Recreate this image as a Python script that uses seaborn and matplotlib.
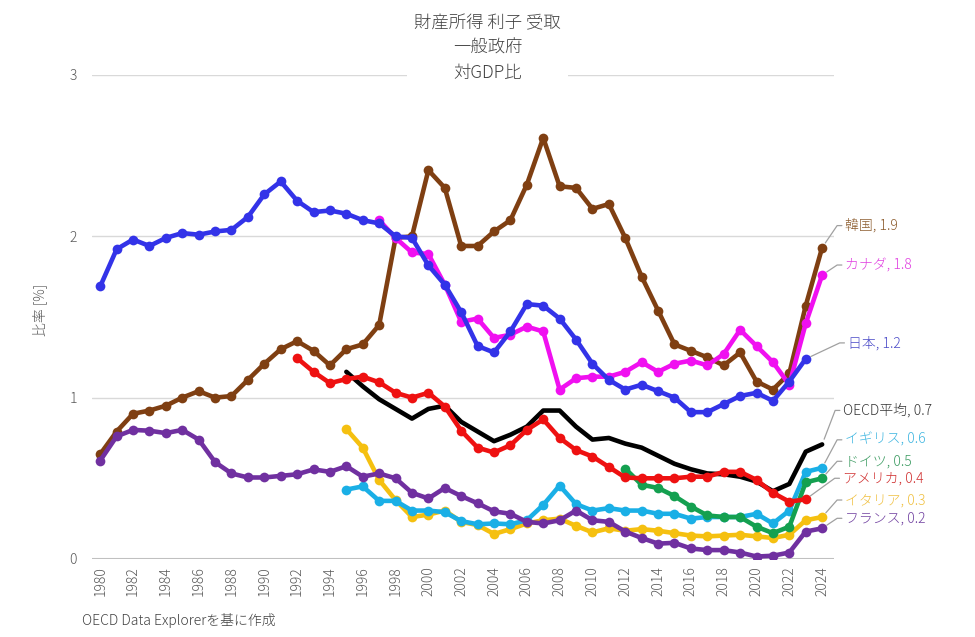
import math
import pandas as pd
import matplotlib
matplotlib.use('Agg')
import matplotlib.pyplot as plt
import seaborn as sns

# data (% of GDP)
years_kr = list(range(1980, 2025))
korea = [0.65, 0.79, 0.90, 0.92, 0.95, 1.00, 1.04, 1.00, 1.01, 1.11,
         1.21, 1.30, 1.35, 1.29, 1.20, 1.30, 1.33, 1.45, 1.99, 2.00,
         2.41, 2.30, 1.94, 1.94, 2.03, 2.10, 2.32, 2.61, 2.31, 2.30,
         2.17, 2.20, 1.99, 1.75, 1.54, 1.33, 1.29, 1.25, 1.20, 1.28,
         1.10, 1.05, 1.15, 1.57, 1.93]

years_ca = list(range(1997, 2025))
canada = [2.10, 1.99, 1.90, 1.89, 1.70, 1.47, 1.49, 1.37, 1.39, 1.44,
          1.41, 1.05, 1.12, 1.13, 1.13, 1.16, 1.22, 1.16, 1.21, 1.23,
          1.20, 1.27, 1.42, 1.32, 1.22, 1.08, 1.46, 1.76]

years_jp = list(range(1980, 2024))
japan = [1.69, 1.92, 1.98, 1.94, 1.99, 2.02, 2.01, 2.03, 2.04, 2.12,
         2.26, 2.34, 2.22, 2.15, 2.16, 2.14, 2.10, 2.08, 2.00, 1.99,
         1.82, 1.70, 1.53, 1.32, 1.28, 1.41, 1.58, 1.57, 1.49, 1.36,
         1.21, 1.11, 1.05, 1.08, 1.04, 1.00, 0.91, 0.91, 0.96, 1.01,
         1.03, 0.98, 1.10, 1.24]

years_oecd = list(range(1995, 2025))
oecd = [1.16, 1.07, 0.99, 0.93, 0.87, 0.93, 0.95, 0.85, 0.79, 0.73,
        0.77, 0.82, 0.92, 0.92, 0.82, 0.74, 0.75, 0.715, 0.69, 0.64,
        0.59, 0.556, 0.53, 0.525, 0.51, 0.48, 0.42, 0.465, 0.665, 0.71]

years_uk = list(range(1995, 2025))
uk = [0.43, 0.45, 0.36, 0.36, 0.30, 0.30, 0.29, 0.235, 0.215, 0.22,
      0.215, 0.24, 0.335, 0.455, 0.34, 0.30, 0.315, 0.30, 0.30, 0.28,
      0.28, 0.25, 0.26, 0.26, 0.26, 0.28, 0.22, 0.30, 0.54, 0.565]

years_de = list(range(2012, 2025))
germany = [0.56, 0.46, 0.44, 0.39, 0.325, 0.27, 0.26, 0.26, 0.20, 0.16,
           0.20, 0.475, 0.50]

years_us = list(range(1992, 2024))
usa = [1.245, 1.16, 1.09, 1.115, 1.13, 1.095, 1.03, 1.00, 1.03, 0.945,
       0.795, 0.69, 0.66, 0.705, 0.80, 0.865, 0.75, 0.675, 0.635, 0.57,
       0.505, 0.50, 0.50, 0.50, 0.51, 0.51, 0.54, 0.54, 0.49, 0.41,
       0.355, 0.37]

years_it = list(range(1995, 2025))
italy = [0.805, 0.69, 0.49, 0.365, 0.26, 0.275, 0.30, 0.23, 0.21, 0.155,
         0.185, 0.22, 0.24, 0.25, 0.205, 0.165, 0.19, 0.175, 0.185, 0.175,
         0.16, 0.145, 0.14, 0.145, 0.15, 0.14, 0.13, 0.15, 0.24, 0.26]

years_fr = list(range(1980, 2025))
france = [0.61, 0.76, 0.80, 0.795, 0.78, 0.80, 0.74, 0.60, 0.53, 0.505,
          0.505, 0.515, 0.525, 0.555, 0.54, 0.575, 0.51, 0.53, 0.50, 0.41,
          0.375, 0.44, 0.39, 0.345, 0.295, 0.28, 0.23, 0.22, 0.24, 0.30,
          0.24, 0.23, 0.17, 0.13, 0.095, 0.10, 0.065, 0.055, 0.055, 0.04,
          0.015, 0.02, 0.04, 0.17, 0.19]

# name, years, values, line colour, label colour, marker?, label offset (px)
series = [
    ('韓国', years_kr, korea, '#7f3f12', '#8b5a2b', True, (23, 22)),
    ('カナダ', years_ca, canada, '#f010f0', '#e040e0', True, (23, 10)),
    ('日本', years_jp, japan, '#3333e8', '#4b4bc8', True, (42, 16)),
    ('OECD平均', years_oecd, oecd, '#000000', '#333333', False, (21, 34)),
    ('イタリア', years_it, italy, '#f5c010', '#f0c040', True, (23, 17)),
    ('イギリス', years_uk, uk, '#1aafe6', '#3db5e0', True, (23, 28)),
    ('ドイツ', years_de, germany, '#14a050', '#3a9a60', True, (23, 17)),
    ('フランス', years_fr, france, '#7030a0', '#7040a0', True, (23, 10)),
    ('アメリカ', years_us, usa, '#ee1111', '#d03030', True, (37, 21)),
]

sns.set_theme(style='white')
plt.rcParams['font.family'] = ['Noto Sans CJK JP', 'DejaVu Sans']
plt.rcParams['font.weight'] = 'light'

fig = plt.figure(figsize=(9.75, 6.37), dpi=100)
ax = fig.add_axes([0.0944, 0.1225, 0.7606, 0.7598])

for name, yrs, vals, col, lcol, mk, off in series:
    df = pd.DataFrame({'year': yrs, 'value': vals})
    sns.lineplot(data=df, x='year', y='value', ax=ax, color=col,
                 linewidth=3.3, marker='o' if mk else None,
                 markersize=7, markeredgewidth=0)

    # end label with leader line
    dx, dy = off
    h = 8
    ang = math.degrees(math.atan2(dy, dx - h))
    ax.annotate(f'{name}, {vals[-1]:.1f}', xy=(yrs[-1], vals[-1]),
                xytext=(dx, dy), textcoords='offset pixels',
                ha='left', va='center', fontsize=10, color=lcol,
                annotation_clip=False,
                arrowprops=dict(arrowstyle='-', color='#a0a0a0', lw=0.9,
                                relpos=(0, 0.5), shrinkA=0, shrinkB=4,
                                connectionstyle=f'angle,angleA=0,angleB={ang},rad=0'))

ax.set_xlim(1979.5, 2024.7)
ax.set_ylim(0, 3)
ax.set_xticks(range(1980, 2025, 2))
ax.set_yticks([0, 1, 2, 3])
ax.tick_params(axis='x', rotation=90, labelsize=10, labelcolor='#595959',
               length=0, pad=5)
ax.tick_params(axis='y', labelsize=10, labelcolor='#595959', length=0, pad=11)
ax.yaxis.grid(True, color='#d9d9d9', linewidth=1)
ax.xaxis.grid(False)
ax.axhline(0, color='#c0c0c0', linewidth=1.5, zorder=1)
for s in ax.spines.values():
    s.set_visible(False)
ax.set_xlabel('')
ax.set_ylabel('')

fig.text(40 / 975, 1 - 310 / 637, '比率 [%]', rotation=90, ha='center',
         va='center', fontsize=10, color='#595959')

fig.text(0.5, 1 - 48 / 637, '財産所得 利子 受取\n一般政府\n対GDP比',
         ha='center', va='center', fontsize=12.5, color='#404040',
         linespacing=1.5,
         bbox=dict(facecolor='white', edgecolor='none', pad=5))

fig.text(82 / 975, 1 - 620 / 637, 'OECD Data Explorerを基に作成',
         ha='left', va='center', fontsize=10, color='#404040')

fig.savefig('out.png', dpi=100)
